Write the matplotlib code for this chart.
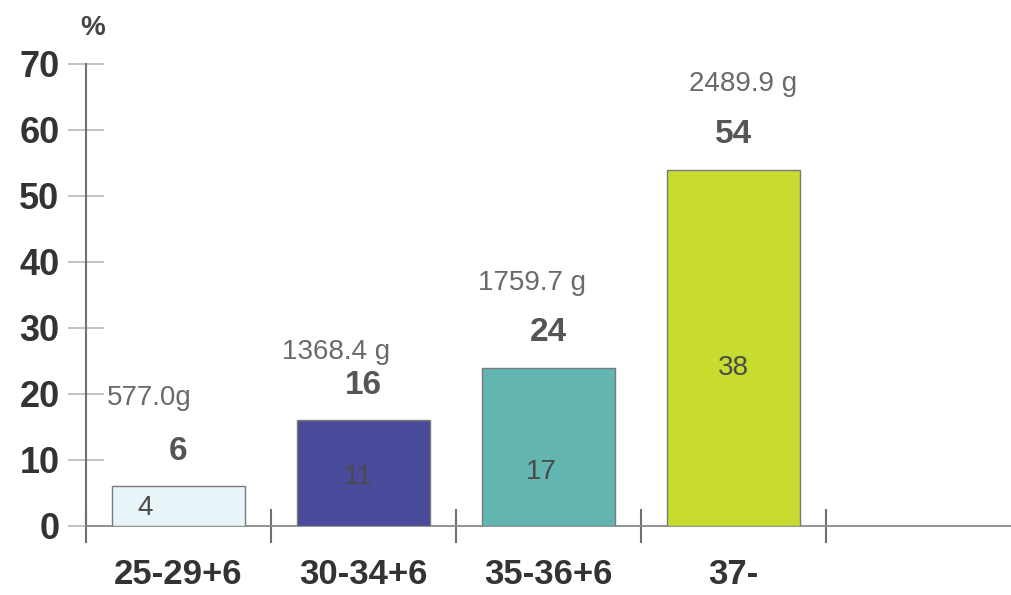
import matplotlib
matplotlib.use("Agg")
import matplotlib.pyplot as plt

# gestational age groups, share of births (%) and mean birth weight
groups = ["25-29+6", "30-34+6", "35-36+6", "37-"]
share = [6, 16, 24, 54]
inner = [4, 11, 17, 38]
weights = ["577.0g", "1368.4 g", "1759.7 g", "2489.9 g"]
colors = ["#e9f4f8", "#4b4b9b", "#62b5b1", "#c8dc30"]

plt.rcParams['font.family'] = ['Liberation Sans', 'DejaVu Sans']

fig = plt.figure(figsize=(10.11, 5.95), dpi=100)
ax = fig.add_axes([0.085, 0.116, 0.915, 0.7765])

x = list(range(len(groups)))
ax.bar(x, share, width=0.72, color=colors, edgecolor="#7a7a7a", linewidth=1.0, zorder=3)

# label placement around each bar
w_dx = [-0.16, -0.15, -0.09, 0.05]
w_dy = [13.4, 10.4, 12.8, 13.0]
in_dx = [-0.18, -0.03, -0.04, 0.0]
in_y = [2.7, 7.4, 8.2, 23.9]

for i in x:
    ax.text(i + w_dx[i], share[i] + w_dy[i], weights[i], ha="center", va="center",
            fontsize=20, color="#6a6a6a")
    ax.text(i, share[i] + 5.3, str(share[i]), ha="center", va="center",
            fontsize=24, fontweight="bold", color="#555555")
    ax.text(i + in_dx[i], in_y[i], str(inner[i]), ha="center", va="center",
            fontsize=20, color="#4a4a4a", zorder=4)

ax.set_xlim(-0.5, 4.5)
ax.set_ylim(0, 70)

ax.set_yticks(range(0, 71, 10))
ax.tick_params(axis="y", direction="inout", length=26, width=1.2, color="#b8b8b8",
               pad=6, labelsize=26, labelcolor="#333333")
for lab in ax.get_yticklabels():
    lab.set_fontweight("bold")

ax.set_xticks(x)
ax.set_xticklabels(groups, fontsize=25, fontweight="bold", color="#333333")
ax.tick_params(axis="x", which="major", length=0, pad=23)
ax.set_xticks([-0.5, 0.5, 1.5, 2.5, 3.5], minor=True)
ax.tick_params(axis="x", which="minor", direction="inout", length=24, width=1.5,
               color="#707070")

for s in ["top", "right"]:
    ax.spines[s].set_visible(False)
ax.spines["left"].set_color("#707070")
ax.spines["left"].set_linewidth(1.5)
ax.spines["bottom"].set_color("#8a8a8a")
ax.spines["bottom"].set_linewidth(1.3)

fig.text(0.092, 0.953, "%", ha="center", va="center", fontsize=20,
         fontweight="bold", color="#444444")

fig.savefig("out.png", dpi=100)
